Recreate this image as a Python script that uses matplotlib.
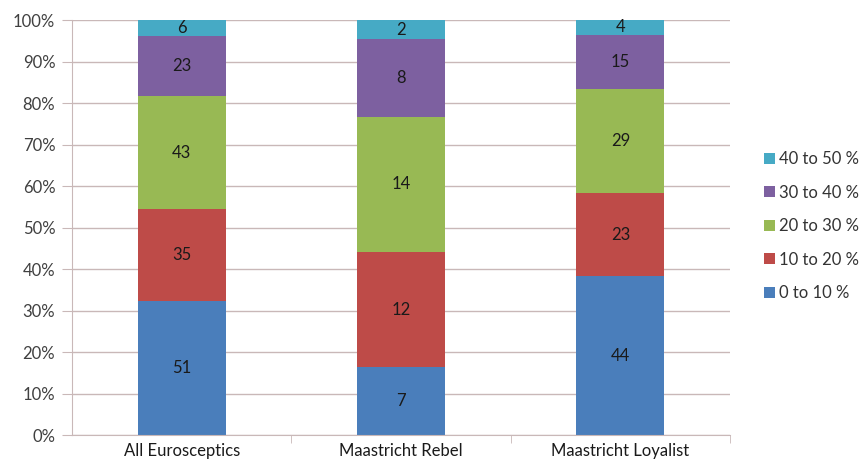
import numpy as np
import matplotlib
matplotlib.use("Agg")
import matplotlib.pyplot as plt
from matplotlib.ticker import PercentFormatter

plt.rcParams['font.family'] = ['Lato', 'DejaVu Sans']

groups = ['All Eurosceptics', 'Maastricht Rebel', 'Maastricht Loyalist']
bands = ['0 to 10 %', '10 to 20 %', '20 to 30 %', '30 to 40 %', '40 to 50 %']
counts = {
    '0 to 10 %':  [51, 7, 44],
    '10 to 20 %': [35, 12, 23],
    '20 to 30 %': [43, 14, 29],
    '30 to 40 %': [23, 8, 15],
    '40 to 50 %': [6, 2, 4],
}
colours = ['#4a7ebb', '#be4b48', '#98b954', '#7d60a0', '#46aac5']

totals = np.sum([counts[b] for b in bands], axis=0)

fig = plt.figure(figsize=(8.63, 4.68), dpi=100)
ax = fig.add_axes([0.0834, 0.0705, 0.7625, 0.8865])

x = np.arange(len(groups))
bottom = np.zeros(len(groups))
handles = []
for band, col in zip(bands, colours):
    vals = np.array(counts[band], dtype=float)
    share = vals / totals * 100
    h = ax.bar(x, share, 0.4, bottom=bottom, color=col, zorder=2)
    handles.append(h)
    # count written in the middle of each segment
    for xi, b, s, v in zip(x, bottom, share, vals):
        ax.text(xi, b + s / 2, f'{int(v)}', ha='center', va='center',
                fontsize=12, color='#1a1a1a', zorder=3)
    bottom += share

ax.set_xlim(-0.5, 2.5)
ax.set_ylim(0, 100)
ax.set_yticks(np.arange(0, 101, 10))
ax.yaxis.set_major_formatter(PercentFormatter(decimals=0))
ax.set_xticks(x)
ax.set_xticklabels(groups)
ax.set_xticks([0.5, 1.5, 2.5], minor=True)

grid_col = '#c9b8b8'
ax.yaxis.grid(True, color=grid_col, linewidth=1.0, zorder=0)
for s in ['top', 'right']:
    ax.spines[s].set_visible(False)
ax.spines['left'].set_color(grid_col)
ax.spines['bottom'].set_color(grid_col)
ax.tick_params(axis='y', length=7, color=grid_col, labelsize=12,
               labelcolor='#404040', pad=5)
ax.tick_params(axis='x', which='major', length=0, labelsize=12,
               labelcolor='#1a1a1a', pad=6)
ax.tick_params(axis='x', which='minor', length=6, color=grid_col)

leg = fig.legend(handles[::-1], bands[::-1], loc='center left',
                 bbox_to_anchor=(0.885, 0.517), frameon=False,
                 fontsize=12, handlelength=0.65, handleheight=0.65,
                 handletextpad=0.25, labelspacing=1.05,
                 borderpad=0, borderaxespad=0)
for t in leg.get_texts():
    t.set_color('#333333')

fig.savefig('out.png', dpi=100, facecolor='white')
